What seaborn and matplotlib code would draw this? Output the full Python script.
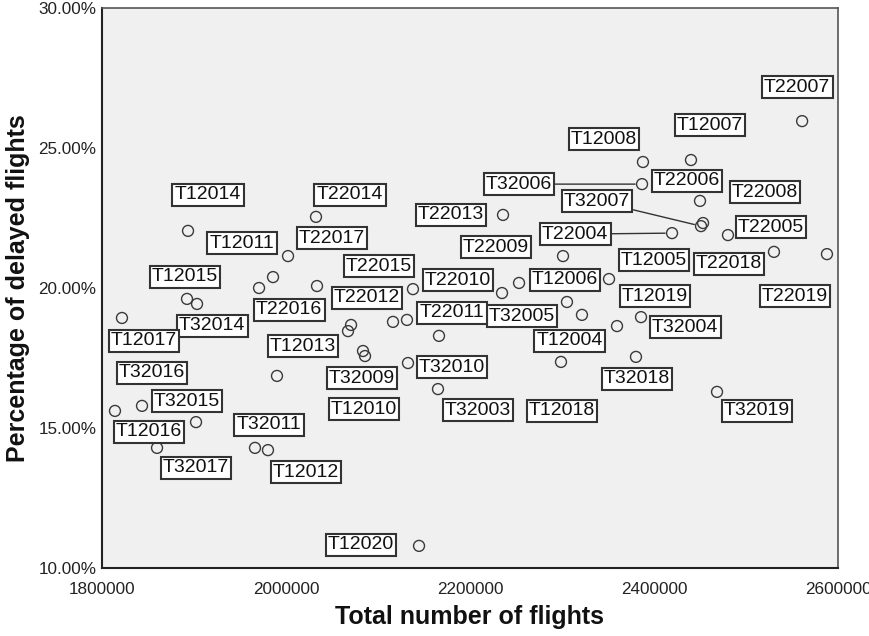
import numpy as np
import pandas as pd
import matplotlib
matplotlib.use("Agg")
import matplotlib.pyplot as plt
import seaborn as sns
from matplotlib.ticker import FixedLocator, FuncFormatter

# ---------------- data ----------------
cases = [
    "T22007", "T12008", "T12007", "T32006", "T22006", "T32007", "T22008", "T22004",
    "T22005", "T22018", "T22019", "T22013", "T22009", "T12005", "T12006", "T32005",
    "T22010", "T22011", "T12004", "T12019", "T32004", "T12018", "T32018", "T32019",
    "T12020", "T22014", "T12014", "T22017", "T12011", "T22016", "T22015", "T22012",
    "T12015", "T32014", "T12017", "T12013", "T32009", "T12010", "T32010", "T32003",
    "T12012", "T32011", "T32017", "T12016", "T32016", "T32015",
    "", "", "", "",
]
total_flights = [
    2561000, 2388000, 2440200, 2387000, 2450000, 2451100, 2453300, 2419600,
    2480400, 2530400, 2588000, 2235900, 2301100, 2351100, 2253300, 2234800,
    2138000, 2131500, 2321700, 2359800, 2385900, 2298900, 2380400, 2468500,
    2144600, 2032600, 1893500, 2002200, 1985900, 1970700, 2033700, 2116300,
    1892400, 1903300, 1821700, 2067400, 2085900, 2083700, 2132600, 2165200,
    1980400, 1966300, 1859800, 1814100, 1843500, 1902200,
    2305400, 2070700, 2166300, 1990200,
]
delayed_pct = [
    25.96, 24.50, 24.57, 23.71, 23.11, 22.21, 22.32, 21.96,
    21.89, 21.29, 21.21, 22.61, 21.14, 20.32, 20.18, 19.82,
    19.96, 18.86, 19.04, 18.64, 18.96, 17.36, 17.54, 16.29,
    10.79, 22.54, 22.04, 21.14, 20.39, 20.00, 20.07, 18.79,
    19.61, 19.43, 18.93, 18.46, 17.57, 17.75, 17.32, 16.39,
    14.21, 14.29, 14.29, 15.61, 15.79, 15.21,
    19.50, 18.68, 18.29, 16.86,
]
x_ticks = [1800000, 2000000, 2200000, 2400000, 2600000]
y_ticks = [10, 15, 20, 25, 30]
x_title = "Total number of flights"
y_title = "Percentage of delayed flights"

# ---------------- label layout (pixel offsets from each point) ----------------
label_offsets = {
    "T22007": (-5, 34), "T12008": (-39, 23), "T12007": (19, 35), "T32006": (-123, 0),
    "T22006": (-13, 20), "T32007": (-104, 25), "T22008": (62, 31), "T22004": (-97, -1),
    "T22005": (43, 8), "T22018": (-45, -12), "T22019": (-32, -42), "T22013": (-52, 0),
    "T22009": (-67, 9), "T12005": (45, 19), "T12006": (46, 3), "T32005": (20, -23),
    "T22010": (45, 9), "T22011": (45, 7), "T12004": (-12, -26), "T12019": (38, 30),
    "T32004": (44, -10), "T12018": (1, -49), "T32018": (1, -22), "T32019": (40, -19),
    "T12020": (-58, 1), "T22014": (34, 22), "T12014": (20, 36), "T22017": (44, 18),
    "T12011": (-31, 34), "T22016": (30, -22), "T22015": (62, 20), "T22012": (-26, 24),
    "T12015": (-2, 22), "T32014": (15, -22), "T12017": (22, -23), "T12013": (-45, -15),
    "T32009": (-3, -22), "T12010": (1, -58), "T32010": (44, -4), "T32003": (40, -21),
    "T12012": (38, -22), "T32011": (14, 23), "T32017": (39, -20), "T12016": (34, -21),
    "T32016": (10, 33), "T32015": (-9, 21),
}
leader_lines = {"T32006", "T32007", "T22004"}

# ---------------- style ----------------
sns.set_theme(style="white")
plt.rcParams["font.family"] = ["Liberation Sans", "DejaVu Sans"]

W, H = 870, 636
fig = plt.figure(figsize=(W / 100, H / 100), dpi=100)
fig.patch.set_facecolor("white")
ax = fig.add_axes([102 / W, 1 - 568 / H, 736 / W, 560 / H])
ax.set_facecolor("#F0F0F0")

df = pd.DataFrame({"case": cases, "flights": total_flights, "pct": delayed_pct})
sns.scatterplot(data=df, x="flights", y="pct", ax=ax, s=62, linewidth=1.0,
                zorder=3, legend=False)
coll = ax.collections[0]
coll.set_facecolor("none")
coll.set_edgecolor("#3a3a3a")

for name, xv, yv in zip(cases, total_flights, delayed_pct):
    if not name:
        continue
    dx, dy = label_offsets[name]
    kw = {}
    if name in leader_lines:
        kw["arrowprops"] = dict(arrowstyle="-", color="#333333", lw=1.0,
                                shrinkA=0, shrinkB=5)
    ax.annotate(name, xy=(xv, yv), xytext=(dx, dy), textcoords="offset pixels",
                ha="center", va="center", fontsize=14, color="#111111", zorder=5,
                bbox=dict(boxstyle="square,pad=0.12", fc="white", ec="#333333", lw=1.5),
                **kw)

ax.set_xlim(x_ticks[0], x_ticks[-1])
ax.set_ylim(y_ticks[0], y_ticks[-1])
ax.xaxis.set_major_locator(FixedLocator(x_ticks))
ax.yaxis.set_major_locator(FixedLocator(y_ticks))
ax.xaxis.set_major_formatter(FuncFormatter(lambda v, p: f"{int(v)}"))
ax.yaxis.set_major_formatter(FuncFormatter(lambda v, p: f"{v:.2f}%"))
ax.tick_params(axis="both", direction="out", width=1, color="#333333",
               labelsize=12.3, labelcolor="#222222")
ax.tick_params(axis="y", length=4, pad=0)
ax.tick_params(axis="x", length=6, pad=4)

for side in ["left", "bottom"]:
    ax.spines[side].set_color("#222222")
    ax.spines[side].set_linewidth(1.5)
for side in ["top", "right"]:
    ax.spines[side].set_color("#555555")
    ax.spines[side].set_linewidth(1.2)

ax.set_xlabel(x_title, fontsize=18, fontweight="bold", color="#111111", labelpad=6)
ax.set_ylabel(y_title, fontsize=18, fontweight="bold", color="#111111", labelpad=6)

fig.savefig("out.png", dpi=100, facecolor="white")
